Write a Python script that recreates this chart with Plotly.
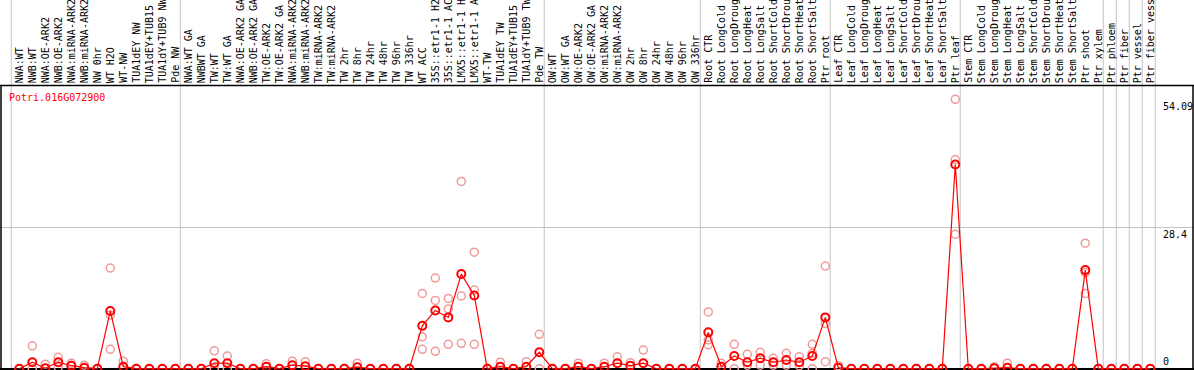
import plotly.graph_objects as go

gene_id = "Potri.016G072900"

categories = [
    "NWA:WT", "NWB:WT", "NWA:OE-ARK2", "NWB:OE-ARK2", "NWA:miRNA-ARK2", "NWB:miRNA-ARK2",
    "NW 0hr", "WT H2O", "WT-NW", "TUA1dEY NW", "TUA1dEY+TUB15", "TUA1dY+TUB9 NW", "Pde NW",
    "NWA:WT GA", "NWBWT GA", "TW:WT", "TW:WT GA", "NWA:OE-ARK2 GA", "NWB:OE-ARK2 GA",
    "TW:OE-ARK2", "TW:OE-ARK2 GA", "NWA:miRNA-ARK2", "NWB:miRNA-ARK2", "TW:miRNA-ARK2",
    "TW:miRNA-ARK2", "TW 2hr", "TW 8hr", "TW 24hr", "TW 48hr", "TW 96hr", "TW 336hr",
    "WT ACC", "35S::etr1-1 H2", "35S::etr1-1 AC", "LMX5::etr1-1 H", "LMX5::etr1-1 A",
    "WT-TW", "TUA1dEY TW", "TUA1dEY+TUB15", "TUA1dY+TUB9 TW", "Pde TW",
    "OW:WT", "OW:WT GA", "OW:OE-ARK2", "OW:OE-ARK2 GA", "OW:miRNA-ARK2", "OW:miRNA-ARK2",
    "OW 2hr", "OW 8hr", "OW 24hr", "OW 48hr", "OW 96hr", "OW 336hr",
    "Root CTR", "Root LongCold", "Root LongDroug", "Root LongHeat", "Root LongSalt",
    "Root ShortCold", "Root ShortDrou", "Root ShortHeat", "Root ShortSalt", "Ptr root",
    "Leaf CTR", "Leaf LongCold", "Leaf LongDroug", "Leaf LongHeat", "Leaf LongSalt",
    "Leaf ShortCold", "Leaf ShortDrou", "Leaf ShortHeat", "Leaf ShortSalt", "Ptr leaf",
    "Stem CTR", "Stem LongCold", "Stem LongDroug", "Stem LongHeat", "Stem LongSalt",
    "Stem ShortCold", "Stem ShortDrou", "Stem ShortHeat", "Stem ShortSalt", "Ptr shoot",
    "Ptr xylem", "Ptr phloem", "Ptr fiber", "Ptr vessel", "Ptr fiber vess",
]

mean_expr = [
    0, 1.3, 0.1, 1.3, 0.6, 0.2, 0, 11.6, 0.4, 0, 0, 0, 0,
    0, 0, 1.1, 1.1, 0, 0, 0.4, 0, 0.7, 0.5, 0, 0, 0, 0.3, 0, 0, 0, 0,
    8.6, 11.7, 10.3, 19.0, 14.7, 0, 0.4, 0, 0.4, 3.3,
    0, 0, 0.4, 0, 0.4, 1.1, 0.6, 1.1, 0, 0, 0, 0,
    7.3, 0.4, 2.55, 1.3, 2.1, 1.3, 1.75, 1.3, 2.55, 10.3,
    0.2, 0, 0, 0, 0, 0, 0, 0, 0, 41.0,
    0, 0, 0.1, 0.2, 0, 0, 0, 0, 0, 19.8,
    0, 0, 0, 0, 0,
]

replicates = [
    [0], [4.6, 0], [0.9], [2.3, 0.3], [1.1], [0.7], [0], [20.2, 3.9, 10.8], [1.5], [0], [0], [0], [0],
    [0], [0], [3.6, 0], [2.55, 0], [0], [0], [1.0], [0], [1.5], [1.4], [0], [0], [0], [1.1], [0], [0], [0], [0],
    [15.1, 6.4, 3.9], [18.2, 13.7, 3.5], [14.1, 12.0, 4.9], [37.6, 14.6, 5.1], [23.4, 15.8, 4.9],
    [0], [1.3], [0], [1.4], [6.9, 0],
    [0], [0], [1.1], [0], [1.1], [2.4], [1.2], [3.75], [0], [0], [0], [0],
    [11.4, 5.8, 4.8], [1.1], [4.9, 0], [2.9, 0.7], [3.3, 0.7], [2.1, 0.7], [3.1, 0.7], [2.4, 0.6],
    [4.9, 3.1, 0], [20.6, 9.1, 1.4],
    [0.6], [0], [0], [0], [0], [0], [0], [0], [0], [54.09, 42.0, 27.0],
    [0], [0], [0.4], [1.1], [0], [0], [0], [0], [0], [25.2, 19.3, 15.1],
    [0], [0], [0], [0], [0],
]

group_starts = [0, 13, 41, 53, 63, 73, 84, 85, 86, 87, 88]
ytick_vals = [0, 28.4, 54.09]
ytick_text = ["0", "28.4", "54.09"]

W, H = 1194, 370
FONT = "DejaVu Sans Mono"
RED = "#ff0000"
PINK = "#f09a9a"
GRID = "#c4c4c4"

xs = list(range(len(categories)))
rep_x, rep_y = [], []
for i, reps in enumerate(replicates):
    for v in reps:
        rep_x.append(i)
        rep_y.append(v)

fig = go.Figure()
fig.add_trace(go.Scatter(
    x=rep_x, y=rep_y, mode="markers",
    marker=dict(symbol="circle-open", size=8, color=PINK, line=dict(width=1.5, color=PINK)),
    hoverinfo="skip", showlegend=False,
))
fig.add_trace(go.Scatter(
    x=xs, y=mean_expr, mode="lines+markers",
    line=dict(color=RED, width=1.2),
    marker=dict(symbol="circle-open", size=8, color=RED, line=dict(width=2, color=RED)),
    showlegend=False,
))

# pixel mapping: category i -> 19.3 + 13 i ; value v -> 368.7 - 4.98 v (from top)
x0 = -19.3 / 13
x1 = x0 + W / 13
y1 = 368.7 / 4.98
y0 = y1 - H / 4.98

shapes = []
for g in group_starts:
    shapes.append(dict(type="line", xref="x", yref="paper", x0=g - 0.62, x1=g - 0.62,
                       y0=0, y1=1, line=dict(color=GRID, width=1), layer="below"))
hdr = 1 - 85.5 / H
shapes.append(dict(type="line", xref="paper", yref="paper", x0=0, x1=1, y0=hdr, y1=hdr,
                   line=dict(color="black", width=1.5)))
shapes.append(dict(type="line", xref="paper", yref="paper", x0=1 / W, x1=1 / W, y0=0, y1=hdr,
                   line=dict(color="black", width=1.5)))
shapes.append(dict(type="line", xref="paper", yref="paper", x0=1193 / W, x1=1193 / W, y0=0, y1=hdr,
                   line=dict(color="black", width=1.5)))

annotations = []
for i, lab in enumerate(categories):
    annotations.append(dict(
        x=i, xref="x", y=1 - 85 / H, yref="paper", text=lab, showarrow=False,
        textangle=-90, xanchor="center", yanchor="bottom",
        font=dict(family=FONT, size=10, color="black"),
    ))
annotations.append(dict(
    x=7 / W, xref="paper", y=1 - 97 / H, yref="paper", text=gene_id, showarrow=False,
    xanchor="left", yanchor="middle", font=dict(family=FONT, size=10, color=RED),
))
for v, t in zip(ytick_vals, ytick_text):
    annotations.append(dict(
        x=1161 / W, xref="paper", y=v, yref="y", text=t, showarrow=False,
        xanchor="left", yanchor="bottom" if v == 0 else "top",
        font=dict(family=FONT, size=10, color="black"),
    ))

fig.update_layout(
    width=W, height=H, margin=dict(l=0, r=0, t=0, b=0, pad=0),
    paper_bgcolor="white", plot_bgcolor="white",
    xaxis=dict(range=[x0, x1], showgrid=False, zeroline=False, showticklabels=False,
               ticks="", showline=False, fixedrange=True),
    yaxis=dict(range=[y0, y1], tickvals=ytick_vals[1:2], showgrid=True, gridcolor=GRID,
               gridwidth=1, zeroline=True, zerolinecolor="black", zerolinewidth=1.5,
               showticklabels=False, ticks="", showline=False, fixedrange=True),
    shapes=shapes, annotations=annotations, showlegend=False,
)

fig.write_html(
    "out.html",
    config={"displayModeBar": False},
    post_script="document.body.style.margin='0';document.body.style.overflow='hidden';",
)
